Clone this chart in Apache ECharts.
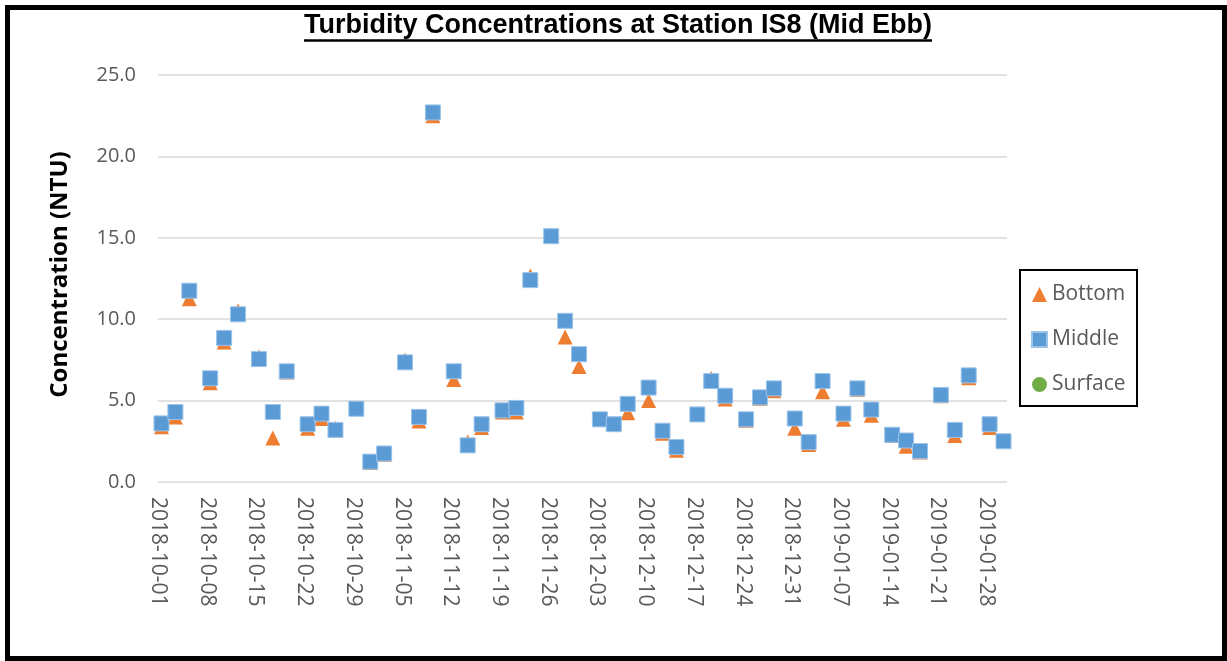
<!DOCTYPE html>
<html>
<head>
<meta charset="utf-8">
<title>Turbidity Concentrations at Station IS8 (Mid Ebb)</title>
<script src="https://cdn.jsdelivr.net/npm/echarts@6/dist/echarts.min.js"></script>
<style>
  html, body { margin: 0; padding: 0; background: #fff; }
  #chart { width: 1227px; height: 661px; }
</style>
</head>
<body>
<div id="chart"></div>
<script>
// Sampling dates (mid-ebb surveys)
const sampleDates = [
  '2018-10-01','2018-10-03','2018-10-05','2018-10-08','2018-10-10','2018-10-12',
  '2018-10-15','2018-10-17','2018-10-19','2018-10-22','2018-10-24','2018-10-26',
  '2018-10-29','2018-10-31','2018-11-02','2018-11-05','2018-11-07','2018-11-09',
  '2018-11-12','2018-11-14','2018-11-16','2018-11-19','2018-11-21','2018-11-23',
  '2018-11-26','2018-11-28','2018-11-30','2018-12-03','2018-12-05','2018-12-07',
  '2018-12-10','2018-12-12','2018-12-14','2018-12-17','2018-12-19','2018-12-21',
  '2018-12-24','2018-12-26','2018-12-28','2018-12-31','2019-01-02','2019-01-04',
  '2019-01-07','2019-01-09','2019-01-11','2019-01-14','2019-01-16','2019-01-18',
  '2019-01-21','2019-01-23','2019-01-25','2019-01-28','2019-01-30'
];

// Turbidity (NTU) at bottom depth
const bottomValues = [
  3.4, 4.0, 11.25, 6.1, 8.6, 10.5,
  7.7, 2.7, 6.75, 3.3, 3.9, 3.3,
  4.55, 1.2, 1.7, 7.5, 3.75, 22.5,
  6.3, 2.45, 3.35, 4.3, 4.3, 12.65,
  15.15, 8.9, 7.1, 3.9, 3.6, 4.25,
  5.0, 3.0, 1.95, 4.2, 6.35, 5.1,
  3.8, 5.15, 5.6, 3.3, 2.3, 5.55,
  3.85, 5.7, 4.1, 2.85, 2.2, 1.85,
  5.3, 2.85, 6.4, 3.35, 2.55
];

// Turbidity (NTU) at middle depth
const middleValues = [
  3.6, 4.3, 11.75, 6.37, 8.85, 10.3,
  7.55, 4.3, 6.8, 3.55, 4.2, 3.2,
  4.5, 1.25, 1.75, 7.35, 4.0, 22.7,
  6.8, 2.25, 3.55, 4.4, 4.55, 12.4,
  15.1, 9.9, 7.85, 3.85, 3.55, 4.8,
  5.8, 3.15, 2.15, 4.15, 6.2, 5.3,
  3.85, 5.2, 5.75, 3.9, 2.45, 6.2,
  4.2, 5.75, 4.45, 2.9, 2.55, 1.9,
  5.35, 3.2, 6.55, 3.55, 2.5
];

// No surface readings were recorded for this station and tide
const surfaceValues = [];

// Weekly labels on the date axis
const xTickLabels = [
  '2018-10-01','2018-10-08','2018-10-15','2018-10-22','2018-10-29','2018-11-05',
  '2018-11-12','2018-11-19','2018-11-26','2018-12-03','2018-12-10','2018-12-17',
  '2018-12-24','2018-12-31','2019-01-07','2019-01-14','2019-01-21','2019-01-28'
];

const yTickLabels = ['0.0', '5.0', '10.0', '15.0', '20.0', '25.0'];

// Day-slot axis: day 0 = first label, each reading sits mid-slot
const DAY = 86400000;
function utc(s) {
  const p = s.split('-').map(Number);
  return Date.UTC(p[0], p[1] - 1, p[2]);
}
const origin = utc(xTickLabels[0]);
function slot(s) { return (utc(s) - origin) / DAY + 0.5; }

function pairs(dates, values) {
  return values.map((v, i) => [slot(dates[i]), v]);
}

const TITLE = 'Turbidity Concentrations at Station IS8 (Mid Ebb)';
const TITLE_FONT = 'bold 27px "Liberation Sans", Arial, sans-serif';
const titleCx = 618;
const measure = document.createElement('canvas').getContext('2d');
measure.font = TITLE_FONT;
const titleW = measure.measureText(TITLE).width;

const chart = echarts.init(document.getElementById('chart'), null, { renderer: 'canvas' });

chart.setOption({
  animation: false,
  backgroundColor: '#ffffff',
  textStyle: { fontFamily: '"Open Sans", sans-serif' },
  grid: { left: 158, right: 220, top: 75, bottom: 179, containLabel: false },
  xAxis: {
    type: 'value',
    min: 0,
    max: 122,
    interval: 7,
    axisLine: { show: false },
    axisTick: { show: false },
    splitLine: { show: false },
    axisLabel: {
      rotate: -90,
      margin: 15,
      showMaxLabel: false,
      color: '#595959',
      fontSize: 21,
      fontFamily: '"Open Sans", sans-serif',
      formatter: v => xTickLabels[Math.round(v / 7)] || ''
    }
  },
  yAxis: {
    type: 'value',
    min: 0,
    max: 25,
    interval: 5,
    name: 'Concentration (NTU)',
    nameLocation: 'middle',
    nameGap: 86,
    nameRotate: 90,
    nameTextStyle: {
      color: '#000000',
      fontSize: 24,
      fontWeight: 'bold',
      fontFamily: '"Open Sans", sans-serif',
      padding: [0, 0, 0, 8]
    },
    axisLine: { show: false },
    axisTick: { show: false },
    splitLine: { show: true, lineStyle: { color: '#d9d9d9', width: 1.5 } },
    axisLabel: {
      margin: 22,
      color: '#595959',
      fontSize: 20,
      fontFamily: '"Open Sans", sans-serif',
      formatter: v => yTickLabels[Math.round(v / 5)]
    }
  },
  legend: {
    orient: 'vertical',
    left: 1031,
    top: 284,
    padding: 0,
    itemWidth: 15,
    itemHeight: 15,
    itemGap: 24,
    textStyle: { color: '#595959', fontSize: 21, fontFamily: '"Open Sans", sans-serif' },
    data: ['Bottom', 'Middle', 'Surface']
  },
  series: [
    {
      name: 'Bottom',
      type: 'scatter',
      symbol: 'triangle',
      symbolSize: 15,
      itemStyle: { color: '#ED7D31', opacity: 1 },
      data: pairs(sampleDates, bottomValues)
    },
    {
      name: 'Middle',
      type: 'scatter',
      symbol: 'rect',
      symbolSize: 15,
      itemStyle: { color: '#5B9BD5', borderColor: '#9cc3e8', borderWidth: 1, opacity: 1 },
      data: pairs(sampleDates, middleValues)
    },
    {
      name: 'Surface',
      type: 'scatter',
      symbol: 'circle',
      symbolSize: 15,
      itemStyle: { color: '#70AD47', opacity: 1 },
      data: pairs(sampleDates, surfaceValues)
    }
  ],
  graphic: [
    {
      type: 'rect',
      shape: { x: 7.5, y: 7.5, width: 1217, height: 651 },
      style: { fill: null, stroke: '#000000', lineWidth: 5 },
      silent: true
    },
    {
      type: 'text',
      x: titleCx,
      y: 12,
      style: {
        text: TITLE,
        font: TITLE_FONT,
        fill: '#000000',
        align: 'center',
        verticalAlign: 'top'
      },
      silent: true
    },
    {
      type: 'line',
      shape: { x1: titleCx - titleW / 2, y1: 40.5, x2: titleCx + titleW / 2, y2: 40.5 },
      style: { stroke: '#000000', lineWidth: 2.5 },
      silent: true
    },
    {
      type: 'rect',
      shape: { x: 1020, y: 270, width: 117, height: 136 },
      style: { fill: null, stroke: '#000000', lineWidth: 2 },
      silent: true
    }
  ]
});
</script>
</body>
</html>
